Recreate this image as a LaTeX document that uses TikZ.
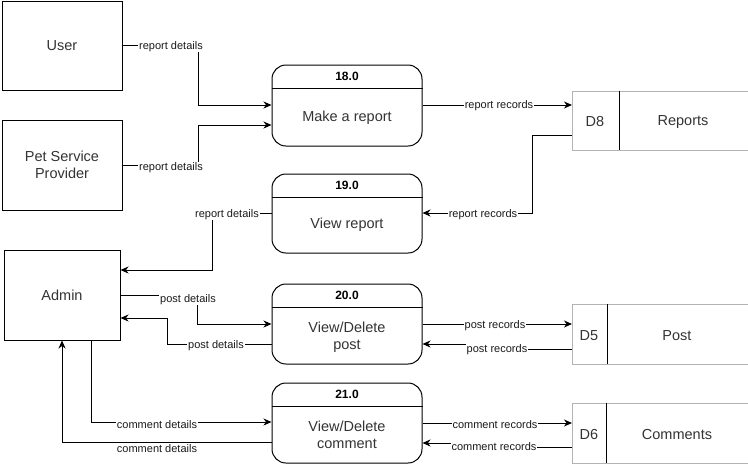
\documentclass[tikz,border=0pt]{standalone}
\usepackage{fontspec}
\setmainfont{Liberation Sans}
\usetikzlibrary{arrows.meta}
\definecolor{txt}{HTML}{333333}
\definecolor{lbltxt}{HTML}{1A1A1A}
\definecolor{storegray}{HTML}{B3B3B3}
\tikzset{
  ent/.style={draw=black, line width=1pt, inner sep=0pt, font=\fontsize{14.5}{17}\selectfont, text=txt, align=center},
  proc/.style={draw=black, line width=1pt, rounded corners=14pt, inner sep=0pt, minimum width=150pt},
  ptitle/.style={font=\fontsize{12}{14}\selectfont\bfseries, text=black},
  pbody/.style={font=\fontsize{14.5}{17}\selectfont, text=txt, align=center},
  store/.style={inner sep=0pt, anchor=north west},
  stxt/.style={font=\fontsize{14.5}{17}\selectfont, text=txt, yshift=-1.5pt},
  sline/.style={draw=storegray, line width=1pt},
  arr/.style={draw=black, line width=1pt, -{Stealth[length=8pt,width=7pt,inset=2.5pt]}},
  lbl/.style={fill=white, inner sep=0.8pt, font=\fontsize{11}{13}\selectfont, text=lbltxt, yshift=-1.5pt}
}
\begin{document}
\begin{tikzpicture}[x=1pt,y=-1pt]
\useasboundingbox (0,0) rectangle (748,467);
% external entities
\node[ent, minimum width=120pt, minimum height=89pt] (User) at (62,45.5) {User};
\node[ent, minimum width=120pt, minimum height=90pt] (PSP) at (62,165) {Pet Service\\Provider};
\node[ent, minimum width=116pt, minimum height=90pt] (Admin) at (62,295) {Admin};
% processes
\node[proc, minimum height=81pt] (P18) at (347,105.5) {};
\node[proc, minimum height=79pt] (P19) at (347,213.5) {};
\node[proc, minimum height=80pt] (P20) at (347,324) {};
\node[proc, minimum height=80pt] (P21) at (347,423) {};
\draw[line width=1pt] (P18.west |- 0,88) -- (P18.east |- 0,88);
\draw[line width=1pt] (P19.west |- 0,197) -- (P19.east |- 0,197);
\draw[line width=1pt] (P20.west |- 0,307) -- (P20.east |- 0,307);
\draw[line width=1pt] (P21.west |- 0,406) -- (P21.east |- 0,406);
\node[ptitle] (T18) at (347,76.5) {18.0};
\node[ptitle] (T19) at (347,185.5) {19.0};
\node[ptitle] (T20) at (347,295.5) {20.0};
\node[ptitle] (T21) at (347,394.5) {21.0};
\node[pbody] (B18) at (347,118) {Make a report};
\node[pbody] (B19) at (347,225) {View report};
\node[pbody] (B20) at (347,337.5) {View/Delete\\post};
\node[pbody] (B21) at (347,434.5) {View/Delete\\comment};
% data stores
\node[store, minimum width=178pt, minimum height=59pt] (D8) at (572,91) {};
\node[store, minimum width=178pt, minimum height=60pt] (D5) at (572,304) {};
\node[store, minimum width=178pt, minimum height=60pt] (D6) at (572,403) {};
\draw[sline] (D8.north east) -- (D8.north west) -- (D8.south west) -- (D8.south east);
\draw[sline] (D5.north east) -- (D5.north west) -- (D5.south west) -- (D5.south east);
\draw[sline] (D6.north east) -- (D6.north west) -- (D6.south west) -- (D6.south east);
\draw[line width=1pt] (619,91) -- (619,150);
\draw[line width=1pt] (607,304) -- (607,364);
\draw[line width=1pt] (606,403) -- (606,463);
\node[stxt] (D8id) at (595,120.5) {D8};
\node[stxt] (D8nm) at (683,120.5) {Reports};
\node[stxt] (D5id) at (589,334) {D5};
\node[stxt] (D5nm) at (677,334) {Post};
\node[stxt] (D6id) at (589,433) {D6};
\node[stxt] (D6nm) at (677,433) {Comments};
% connectors
\draw[arr] (User.east |- 0,45) -| (198,105) -- (P18.west |- 0,105);
\node[lbl] at (171,45) {report details};
\draw[arr] (PSP.east |- 0,165) -| (198,125) -- (P18.west |- 0,125);
\node[lbl] at (171,166) {report details};
\draw[arr] (P18.east |- 0,105) -- (D8.west |- 0,105);
\node[lbl] at (499,104) {report records};
\draw[arr] (D8.west |- 0,135) -| (532,213) -- (P19.east |- 0,213);
\node[lbl] at (483,213) {report records};
\draw[arr] (P19.west |- 0,213) -| (212,270) -- (Admin.east |- 0,270);
\node[lbl] at (227,213) {report details};
\draw[arr] (Admin.east |- 0,295) -| (197,324) -- (P20.west |- 0,324);
\node[lbl] at (188,298) {post details};
\draw[arr] (P20.west |- 0,344) -| (167,318) -- (Admin.east |- 0,318);
\node[lbl] at (216,344) {post details};
\draw[arr] (P20.east |- 0,324) -- (D5.west |- 0,324);
\node[lbl] at (495,324) {post records};
\draw[arr] (D5.west |- 0,349) -- (497,349) -- (497,344) -- (P20.east |- 0,344);
\node[lbl] at (497,348) {post records};
\draw[arr] (Admin.south -| 91,0) -- (91,422) -- (P21.west |- 0,422);
\node[lbl] at (157,423) {comment details};
\draw[arr] (P21.west |- 0,442) -- (62,442) -- (Admin.south -| 62,0);
\node[lbl] at (157,447) {comment details};
\draw[arr] (P21.east |- 0,423) -- (D6.west |- 0,423);
\node[lbl] at (495,423) {comment records};
\draw[arr] (D6.west |- 0,447) -- (494,447) -- (494,443) -- (P21.east |- 0,443);
\node[lbl] at (494,445) {comment records};
\end{tikzpicture}
\end{document}
